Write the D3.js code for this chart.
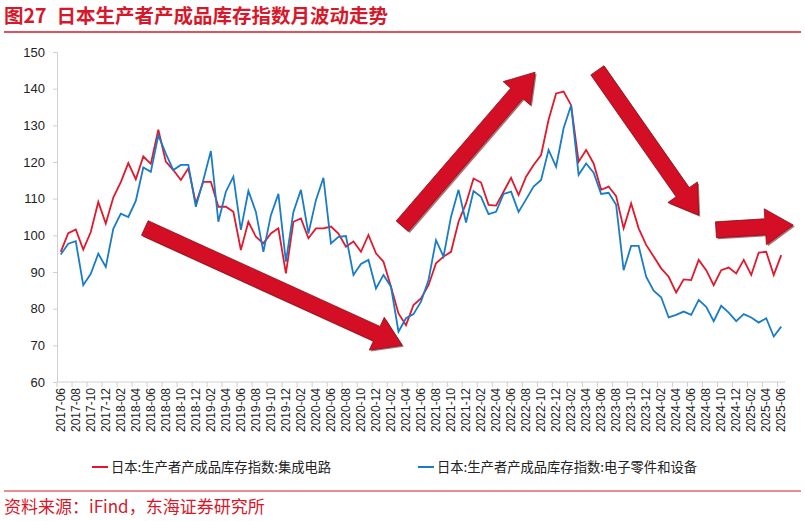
<!DOCTYPE html>
<html>
<head>
<meta charset="utf-8">
<script src="https://cdn.jsdelivr.net/npm/d3@7"></script>
<style>
body { margin: 0; background: #fff; }
svg { font-family: "Liberation Sans", Arial, "Noto Sans CJK SC", sans-serif; }
</style>
</head>
<body>
<div id="chart"></div>
<script>
var svgW = 805, svgH = 521;

// monthly, 2017-06 .. 2025-06
var months = [];
for (var y = 2017; y <= 2025; y++) {
    for (var m = 1; m <= 12; m++) {
        if ((y === 2017 && m < 6) || (y === 2025 && m > 6)) continue;
        months.push(y + "-" + (m < 10 ? "0" + m : m));
    }
}

var icSeries = [95.5,100.6,101.6,96.1,100.9,109.1,103.2,110.3,114.5,119.7,115.3,121.5,119.5,128.8,120.1,
    117.8,115.1,118.3,108.7,114.6,114.6,107.8,107.8,106.4,96,103.7,99.6,97.8,100.5,101.9,
    89.6,103.7,104.6,99.2,101.9,101.9,102.4,100.5,96.9,98.3,95.5,100.1,95.1,92.8,86,78.7,
    75.5,81,82.8,86.4,92.4,94.2,95.5,103.7,108.7,115.5,114.4,108.3,108.1,111.9,115.7,111,
    116,119.2,121.9,131.5,138.7,139.2,135.5,120.1,123.3,119.6,112.4,113.3,110.7,101.9,108.7,
    101.9,97.4,94.2,91,88.7,84.4,88,87.8,93.3,90.5,86.4,90.5,91.2,89.6,93.3,89.2,95.3,95.5,89.2,94.6];

var ecSeries = [94.8,97.7,98.4,86.4,89.5,95,91.4,101.8,105.9,105,109.4,118.5,117.3,127.3,122.3,
    117.8,119.2,119.2,107.8,115.1,123,103.7,111.9,116,101.5,112.1,106.4,95.5,105.5,111.3,
    92.8,106.4,112.4,100.5,109.6,115.7,97.8,99.6,99.8,89.2,92.2,93.3,85.5,89.2,86,73.7,
    77.4,78.5,81.9,87.8,98.7,94.2,105.1,112.4,103.5,112.1,110.5,105.8,106.4,111.3,111.9,106.4,
    109.8,113.3,115.1,123.3,118.7,129.2,135.5,116.5,119.6,117.1,111.3,111.6,108.3,90.5,97.1,
    97.1,88.7,84.9,83.1,77.6,78.3,79.2,78.3,82.4,80.5,76.6,80.8,78.9,76.6,78.5,77.6,76.2,77.4,72.4,75.1];

var yTicks = [60, 70, 80, 90, 100, 110, 120, 130, 140, 150];
var seriesNames = ["日本:生产者产成品库存指数:集成电路", "日本:生产者产成品库存指数:电子零件和设备"];
var seriesColors = ["#e0192d", "#1a7cc7"];

// trend arrows as [month index, value] pairs: tail -> head
var arrows = [
    [[11.2, 102], [45.5, 70]],
    [[45.5, 102.5], [63.2, 144.5]],
    [[71.5, 145], [85, 105.5]],
    [[87.3, 101.5], [97.6, 102.8]]
];

var margin = { left: 57, right: 20, top: 52, bottom: 139 };
var chartW = 728, chartH = 330;

var svg = d3.select("#chart").append("svg").attr("width", svgW).attr("height", svgH);

// title
var title = svg.append("text").attr("x", 4).attr("y", 23)
   .attr("fill", "#d7182a").attr("font-weight", "bold").attr("font-size", 19.5)
   .attr("font-family", "'Noto Sans CJK SC', sans-serif");
title.append("tspan").text("图27");
title.append("tspan").attr("dx", 10).text("日本生产者产成品库存指数月波动走势");
svg.append("line").attr("x1", 4).attr("x2", 801).attr("y1", 32).attr("y2", 32)
   .attr("stroke", "#d7182a").attr("stroke-width", 1.5);

var g = svg.append("g").attr("transform", `translate(${margin.left}, ${margin.top})`);

var xScale = d3.scaleBand().domain(months).range([0, chartW]);
var bw = xScale.bandwidth();
var xc = i => xScale(months[0]) + bw * (i + 0.5);
var yScale = d3.scaleLinear().domain([60, 150]).range([chartH, 0]);

// y axis
var leftAxis = d3.axisLeft(yScale).tickValues(yTicks).tickSize(4).tickPadding(8);
var ya = g.append("g").call(leftAxis);
ya.select(".domain").attr("stroke", "#d0d0d0");
ya.selectAll(".tick line").attr("stroke", "#d0d0d0");
ya.selectAll("text").attr("font-size", 13).attr("fill", "#222");

// x axis
g.append("line").attr("x1", 0).attr("x2", chartW).attr("y1", chartH).attr("y2", chartH)
 .attr("stroke", "#d0d0d0");
var tickIdx = d3.range(0, months.length + 1, 2);
g.selectAll(".xt").data(tickIdx).enter().append("line")
 .attr("x1", i => i * bw).attr("x2", i => i * bw)
 .attr("y1", chartH).attr("y2", chartH + 5).attr("stroke", "#d0d0d0");
g.selectAll(".xl").data(d3.range(0, months.length, 2)).enter().append("text")
 .attr("transform", i => `translate(${xc(i) + 4}, ${chartH + 6}) rotate(-90)`)
 .attr("text-anchor", "end").attr("font-size", 12).attr("fill", "#222")
 .text(i => months[i]);

// lines
var line = d3.line().x((d, i) => xc(i)).y(d => yScale(d));
[icSeries, ecSeries].forEach((s, k) => {
    g.append("path").datum(s).attr("d", line).attr("fill", "none")
     .attr("stroke", seriesColors[k]).attr("stroke-width", 1.8);
});

// block arrows
function arrowPath(p0, p1) {
    var x0 = xc(p0[0]), y0 = yScale(p0[1]), x1 = xc(p1[0]), y1 = yScale(p1[1]);
    var dx = x1 - x0, dy = y1 - y0, L = Math.hypot(dx, dy);
    var ux = dx / L, uy = dy / L, nx = -uy, ny = ux;
    var sw = 8, hw = 18, hl = 28;
    var bx = x1 - ux * hl, by = y1 - uy * hl;
    var pts = [
        [x0 + nx * sw, y0 + ny * sw], [bx + nx * sw, by + ny * sw], [bx + nx * hw, by + ny * hw],
        [x1, y1], [bx - nx * hw, by - ny * hw], [bx - nx * sw, by - ny * sw], [x0 - nx * sw, y0 - ny * sw]
    ];
    return "M" + pts.map(p => p.join(",")).join("L") + "Z";
}
arrows.forEach(a => {
    g.append("path").attr("d", arrowPath(a[0], a[1]))
     .attr("transform", "translate(1.5,1.5)").attr("fill", "#7a1018").attr("opacity", 0.6);
    g.append("path").attr("d", arrowPath(a[0], a[1]))
     .attr("fill", "#d40e24").attr("stroke", "#8a0e18").attr("stroke-width", 0.8);
});

// legend
var legX = [92, 418];
seriesNames.forEach((n, k) => {
    svg.append("line").attr("x1", legX[k]).attr("x2", legX[k] + 16).attr("y1", 467).attr("y2", 467)
       .attr("stroke", seriesColors[k]).attr("stroke-width", 2);
    svg.append("text").attr("x", legX[k] + 19).attr("y", 471.5).attr("font-size", 13.3).attr("fill", "#222")
       .attr("font-family", "'Noto Sans CJK SC', sans-serif").text(n);
});

// source
svg.append("line").attr("x1", 4).attr("x2", 801).attr("y1", 491).attr("y2", 491)
   .attr("stroke", "#d7182a").attr("stroke-width", 1);
svg.append("text").attr("x", 4).attr("y", 513).attr("font-size", 17).attr("fill", "#d7182a")
   .attr("font-family", "'Noto Sans CJK SC', sans-serif").text("资料来源：iFind，东海证券研究所");
</script>
</body>
</html>
